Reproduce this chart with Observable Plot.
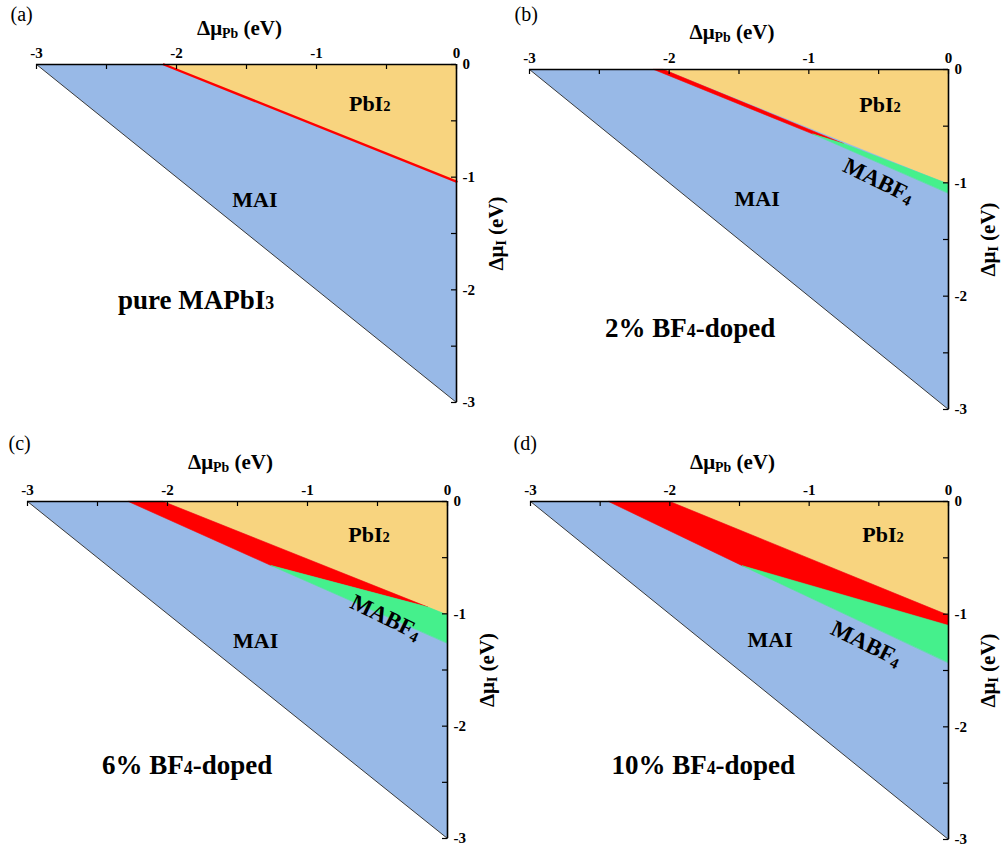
<!DOCTYPE html>
<html><head><meta charset="utf-8">
<script src="https://cdn.jsdelivr.net/npm/d3@7"></script>
<script src="https://cdn.jsdelivr.net/npm/@observablehq/plot@0.6"></script>
<style>
body{margin:0;background:#fff;}
#wrap{position:relative;width:1003px;height:850px;overflow:hidden;background:#fff;}
#wrap svg{position:absolute;}
</style></head><body><div id="wrap"></div>
<script>
// ---- data ----
const panelIds = ["(a)", "(b)", "(c)", "(d)"];
const dopingLabels = ["pure MAPbI{3}", "2% BF{4}-doped", "6% BF{4}-doped", "10% BF{4}-doped"];
const xTicks = [-3, -2, -1, 0];
const yTicks = [0, -1, -2, -3];
const minorTicks = [-3, -2.5, -2, -1.5, -1, -0.5, 0];
// accessible chemical-potential triangle (Δμ_Pb, Δμ_I)
const triangle = [[-3, 0], [0, 0], [0, -3]];
// PbI2 precipitation region
const pbi2Regions = [
  [[-2.09, 0], [0, 0], [0, -1.04]],
  [[-2.04, 0], [0, 0], [0, -1.01]],
  [[-2.03, 0], [0, 0], [0, -1.01]],
  [[-2.00, 0], [0, 0], [0, -1.01]]
];
// stable region of the perovskite (red)
const stableRegions = [
  [[-2.09, 0], [0, -1.04]],
  [[-2.04, 0], [-0.75, -0.655], [-0.97, -0.57], [-2.11, 0]],
  [[-2.03, 0], [-0.14, -0.94], [-1.26, -0.57], [-2.28, 0]],
  [[-2.00, 0], [0, -1.01], [0, -1.10], [-1.48, -0.57], [-2.44, 0]]
];
// MABF4 precipitation region (green)
const mabf4Regions = [
  null,
  [[-0.97, -0.57], [-0.75, -0.655], [0, -1.01], [0, -1.09]],
  [[-1.26, -0.57], [-0.14, -0.94], [0, -1.01], [0, -1.26]],
  [[-1.48, -0.57], [0, -1.10], [0, -1.43]]
];
// label anchor points
const pbi2LabelPos = [[-0.62, -0.35], [-0.49, -0.31], [-0.56, -0.30], [-0.47, -0.30]];
const maiLabelPos = [[-1.44, -1.20], [-1.37, -1.14], [-1.37, -1.24], [-1.28, -1.23]];
const mabf4LabelPos = [null, [-0.50, -0.98], [-0.44, -1.03], [-0.59, -1.26]];
const dopingLabelPos = [[-1.86, -2.09], [-1.85, -2.28], [-1.86, -2.35], [-1.76, -2.34]];

// ---- layout / style ----
const BLUE = "#98B9E7", YELLOW = "#F8D47F", RED = "#FF0000", GREEN = "#45F08C";
const FONT = "'Liberation Serif','Times New Roman',serif";
const layout = [
  {left: 0,   top: 0,   width: 500, height: 425, ml: 36, mr: 44, mt: 64, mb: 23, lx: -26, ly: -58, ty: -36},
  {left: 500, top: 0,   width: 503, height: 425, ml: 29, mr: 55, mt: 69, mb: 16, lx: -15, ly: -63, ty: -37},
  {left: 0,   top: 425, width: 500, height: 425, ml: 27, mr: 53, mt: 76, mb: 12, lx: -19, ly: -66, ty: -39},
  {left: 500, top: 425, width: 503, height: 425, ml: 30, mr: 55, mt: 76, mb: 11, lx: -17, ly: -66, ty: -39}
];
const X = d => d[0], Y = d => d[1];

function applySubs(svg) {
  svg.querySelectorAll("text").forEach(t => {
    const s = t.textContent;
    if (!/[{]/.test(s)) return;
    const parts = s.split(/(_\{[^}]*\}|\{[^}]*\})/).filter(p => p !== "");
    while (t.firstChild) t.removeChild(t.firstChild);
    const NS = "http://www.w3.org/2000/svg";
    for (const p of parts) {
      const ts = document.createElementNS(NS, "tspan");
      if (p.startsWith("_{")) {
        ts.textContent = p.slice(2, -1);
        ts.setAttribute("font-size", "66%");
        ts.setAttribute("baseline-shift", "-22%");
      } else if (p.startsWith("{")) {
        ts.textContent = p.slice(1, -1);
        ts.setAttribute("font-size", "66%");
      } else {
        ts.textContent = p;
      }
      t.appendChild(ts);
    }
  });
}

const wrap = document.getElementById("wrap");
layout.forEach((L, i) => {
  const fw = L.width - L.ml - L.mr, fh = L.height - L.mt - L.mb;
  const marks = [
    Plot.line(triangle, {x: X, y: Y, curve: "linear-closed", fill: BLUE, stroke: "none"}),
    Plot.line([triangle[0], triangle[2]], {x: X, y: Y, stroke: "#3a3a3a", strokeWidth: 1}),
    Plot.line(pbi2Regions[i], {x: X, y: Y, curve: "linear-closed", fill: YELLOW, stroke: "none"})
  ];
  if (stableRegions[i].length > 2) {
    marks.push(Plot.line(stableRegions[i], {x: X, y: Y, curve: "linear-closed", fill: RED, stroke: RED, strokeWidth: 0.6}));
  } else {
    marks.push(Plot.line(stableRegions[i], {x: X, y: Y, stroke: RED, strokeWidth: 2.4}));
  }
  if (mabf4Regions[i]) {
    marks.push(Plot.line(mabf4Regions[i], {x: X, y: Y, curve: "linear-closed", fill: GREEN, stroke: GREEN, strokeWidth: 0.6}));
  }
  marks.push(
    Plot.ruleX(minorTicks, {insetBottom: fh - 5, stroke: "#000", strokeWidth: 1.2}),
    Plot.ruleY(minorTicks, {insetLeft: fw - 5, stroke: "#000", strokeWidth: 1.2}),
    Plot.ruleY([0], {stroke: "#000", strokeWidth: 1.6}),
    Plot.ruleX([0], {stroke: "#000", strokeWidth: 1.6}),
    // tick labels (top x axis, right y axis)
    Plot.text(xTicks, {x: d => d, frameAnchor: "top", textAnchor: "middle", lineAnchor: "bottom", dy: -7,
      text: d => String(d), fontSize: 15, fontWeight: "bold"}),
    Plot.text(yTicks, {y: d => d, frameAnchor: "right", textAnchor: "start", lineAnchor: "middle", dx: 6,
      text: d => String(d), fontSize: 15, fontWeight: "bold"}),
    Plot.text(["Δμ_{Pb} (eV)"], {frameAnchor: "top", textAnchor: "middle", lineAnchor: "middle", dx: -7, dy: L.ty, fontSize: 21, fontWeight: "bold"}),
    Plot.text(["Δμ_{I} (eV)"], {frameAnchor: "right", textAnchor: "middle", lineAnchor: "middle", dx: 40, rotate: -90, fontSize: 21, fontWeight: "bold"}),
    Plot.text([panelIds[i]], {frameAnchor: "top-left", textAnchor: "start", lineAnchor: "top", dx: L.lx, dy: L.ly, fontSize: 20, fontWeight: "normal"}),
    Plot.text([pbi2LabelPos[i]], {x: X, y: Y, text: () => "PbI{2}", fontSize: 22, fontWeight: "bold"}),
    Plot.text([maiLabelPos[i]], {x: X, y: Y, text: () => "MAI", fontSize: 22, fontWeight: "bold"}),
    Plot.text([dopingLabelPos[i]], {x: X, y: Y, text: () => dopingLabels[i], fontSize: 27, fontWeight: "bold"})
  );
  if (mabf4LabelPos[i]) {
    marks.push(Plot.text([mabf4LabelPos[i]], {x: X, y: Y, text: () => "MABF_{4}", rotate: 26, fontSize: 23, fontWeight: "bold"}));
  }
  const svg = Plot.plot({
    width: L.width, height: L.height,
    marginLeft: L.ml, marginRight: L.mr, marginTop: L.mt, marginBottom: L.mb,
    x: {domain: [-3, 0], axis: null},
    y: {domain: [-3, 0], axis: null},
    style: {fontFamily: FONT, fontWeight: "bold", color: "#000", background: "transparent", overflow: "visible"},
    marks
  });
  svg.style.left = L.left + "px";
  svg.style.top = L.top + "px";
  applySubs(svg);
  wrap.appendChild(svg);
});
</script>
</body></html>
